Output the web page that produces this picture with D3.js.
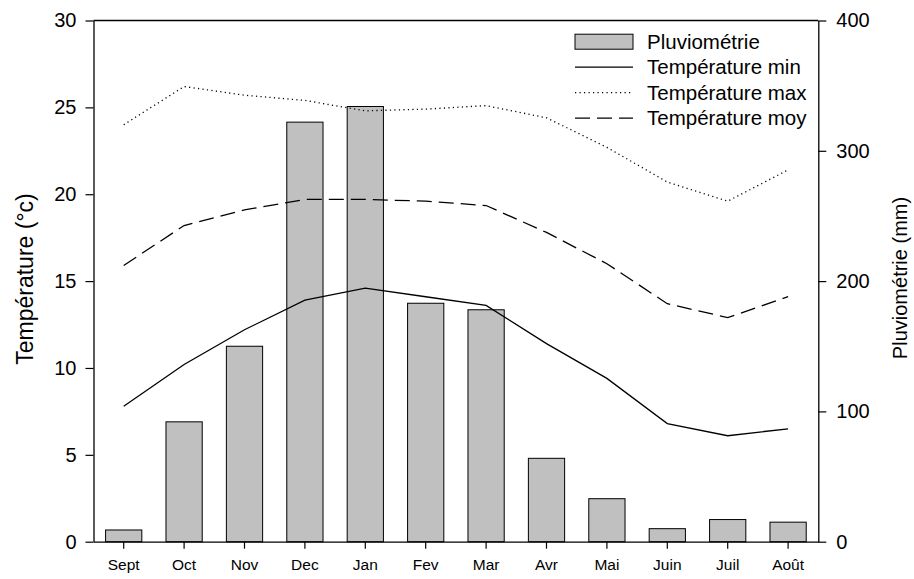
<!DOCTYPE html>
<html>
<head>
<meta charset="utf-8">
<script src="https://cdn.jsdelivr.net/npm/d3@7"></script>
<style>
  html, body { margin: 0; padding: 0; background: #fff; }
  svg { display: block; font-family: "Liberation Sans", Arial, sans-serif; }
</style>
</head>
<body>
<svg id="chart" width="914" height="579"></svg>
<script>
// Monthly climate data
const months = ["Sept", "Oct", "Nov", "Dec", "Jan", "Fev", "Mar", "Avr", "Mai", "Juin", "Juil", "Août"];
const rainfall = [9, 92, 150, 322, 334, 183, 178, 64, 33, 10, 17, 15];      // mm
const tempMin  = [7.8, 10.2, 12.2, 13.9, 14.6, 14.1, 13.6, 11.4, 9.4, 6.8, 6.1, 6.5];
const tempMax  = [24.0, 26.2, 25.7, 25.4, 24.8, 24.9, 25.1, 24.4, 22.7, 20.7, 19.6, 21.4];
const tempMoy  = [15.9, 18.2, 19.1, 19.7, 19.7, 19.6, 19.35, 17.8, 16.0, 13.7, 12.9, 14.1];
const tempTicks = [0, 5, 10, 15, 20, 25, 30];
const rainTicks = [0, 100, 200, 300, 400];

const svg = d3.select("#chart");
const m = { left: 93.5, right: 818.3, top: 20.5, bottom: 541.7 };

const x = d3.scaleBand().domain(months).range([m.left, m.right])
  .paddingInner(0.4).paddingOuter(0.2);
const yT = d3.scaleLinear().domain([0, 30]).range([m.bottom, m.top]);
const yR = d3.scaleLinear().domain([0, 400]).range([m.bottom, m.top]);
const cx = d => x(d) + x.bandwidth() / 2;

// Bars: rainfall
svg.append("g").selectAll("rect").data(months).join("rect")
  .attr("x", d => x(d))
  .attr("y", (d, i) => yR(rainfall[i]))
  .attr("width", x.bandwidth())
  .attr("height", (d, i) => m.bottom - yR(rainfall[i]))
  .attr("fill", "#c0c0c0")
  .attr("stroke", "#000")
  .attr("stroke-width", 1);

// Temperature lines
const series = [
  { values: tempMin, dash: null },
  { values: tempMax, dash: "1.2,3.3" },
  { values: tempMoy, dash: "15,7" }
];
const line = d3.line().x(d => cx(d.m)).y(d => yT(d.v));
series.forEach(s => {
  svg.append("path")
    .datum(months.map((mo, i) => ({ m: mo, v: s.values[i] })))
    .attr("d", line)
    .attr("fill", "none")
    .attr("stroke", "#000")
    .attr("stroke-width", 1.3)
    .attr("stroke-dasharray", s.dash);
});

// Frame top edge
svg.append("line").attr("x1", m.left).attr("x2", m.right).attr("y1", m.top).attr("y2", m.top)
  .attr("stroke", "#000").attr("stroke-width", 1.3);

// Axes
const styleAxis = (g, fs) => {
  g.select(".domain").attr("stroke", "#000").attr("stroke-width", 1.3);
  g.selectAll(".tick line").attr("stroke", "#000").attr("stroke-width", 1.2);
  g.selectAll(".tick text").attr("fill", "#000").style("font-size", fs + "px")
    .style("font-family", "'Liberation Sans', Arial, sans-serif");
};

svg.append("g").attr("transform", `translate(${m.left},0)`)
  .call(d3.axisLeft(yT).tickValues(tempTicks).tickSize(8).tickPadding(9).tickSizeOuter(0))
  .call(g => styleAxis(g, 20));

svg.append("g").attr("transform", `translate(${m.right},0)`)
  .call(d3.axisRight(yR).tickValues(rainTicks).tickSize(8).tickPadding(10).tickSizeOuter(0))
  .call(g => styleAxis(g, 20));

svg.append("g").attr("transform", `translate(0,${m.bottom})`)
  .call(d3.axisBottom(x).tickSize(7).tickPadding(10).tickSizeOuter(0))
  .call(g => styleAxis(g, 15.5));

// Axis titles
svg.append("text")
  .attr("transform", `translate(33,279) rotate(-90)`)
  .attr("text-anchor", "middle")
  .style("font-size", "23px")
  .text("Température (°c)");

svg.append("text")
  .attr("transform", `translate(907,278) rotate(-90)`)
  .attr("text-anchor", "middle")
  .style("font-size", "20px")
  .text("Pluviométrie (mm)");

// Legend
const legendItems = [
  { label: "Pluviométrie", type: "bar" },
  { label: "Température min", type: "line", dash: null },
  { label: "Température max", type: "line", dash: "1.2,3.3" },
  { label: "Température moy", type: "line", dash: "15,7" }
];
const lg = svg.append("g");
legendItems.forEach((it, i) => {
  const yc = 41.7 + i * 25.5;
  if (it.type === "bar") {
    lg.append("rect").attr("x", 575).attr("y", yc - 7.5).attr("width", 58).attr("height", 15)
      .attr("fill", "#c0c0c0").attr("stroke", "#000").attr("stroke-width", 1);
  } else {
    lg.append("line").attr("x1", 575).attr("x2", 633).attr("y1", yc).attr("y2", yc)
      .attr("stroke", "#000").attr("stroke-width", 1.3).attr("stroke-dasharray", it.dash);
  }
  lg.append("text").attr("x", 647).attr("y", yc + 7)
    .style("font-size", "20.5px").text(it.label);
});
</script>
</body>
</html>
